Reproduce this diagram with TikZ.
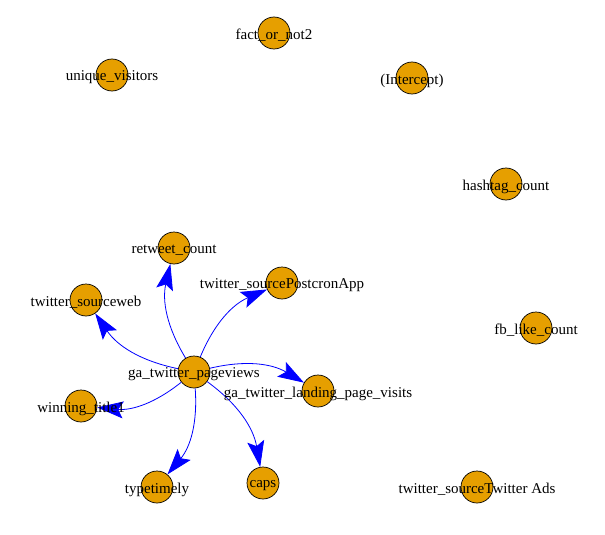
\documentclass[tikz,border=0pt]{standalone}
\usepackage{fontspec}
\setmainfont{Liberation Serif}
\usetikzlibrary{arrows.meta}
\definecolor{vorange}{HTML}{E69F00}

\begin{document}
\begin{tikzpicture}[x=1pt,y=-1pt,>={Stealth[length=26pt,width=17pt,inset=5pt]},
  vert/.style={circle,draw=black,fill=vorange,minimum size=32pt,inner sep=0pt,line width=0.7pt},
  vlabel/.style={font=\fontsize{15}{15}\selectfont,inner sep=0pt,yshift=-2.5pt},
  arc/.style={->,draw=blue,line width=0.8pt,bend left=22}]

\useasboundingbox (0,0) rectangle (605,535);

\node[vert] (pv) at (194,372) {};
\node[vert] (fact) at (274,33) {};
\node[vert] (uniq) at (112,75) {};
\node[vert] (icpt) at (412,78) {};
\node[vert] (hash) at (506,184) {};
\node[vert] (fb) at (536,328) {};
\node[vert] (ads) at (477,487) {};
\node[vert] (rt) at (174,248) {};
\node[vert] (pca) at (282,283) {};
\node[vert] (web) at (86,300) {};
\node[vert] (land) at (318,391) {};
\node[vert] (win) at (81,406) {};
\node[vert] (timely) at (157,487) {};
\node[vert] (caps) at (263,483) {};

\draw[arc] (pv) to (rt);
\draw[arc] (pv) to (pca);
\draw[arc] (pv) to (web);
\draw[arc] (pv) to (land);
\draw[arc] (pv) to (win);
\draw[arc] (pv) to (timely);
\draw[arc] (pv) to (caps);

\node[vlabel] (pv-l) at (pv) {ga\_twitter\_pageviews};
\node[vlabel] (fact-l) at (fact) {fact\_or\_not2};
\node[vlabel] (uniq-l) at (uniq) {unique\_visitors};
\node[vlabel] (icpt-l) at (icpt) {(Intercept)};
\node[vlabel] (hash-l) at (hash) {hashtag\_count};
\node[vlabel] (fb-l) at (fb) {fb\_like\_count};
\node[vlabel] (ads-l) at (ads) {twitter\_sourceTwitter Ads};
\node[vlabel] (rt-l) at (rt) {retweet\_count};
\node[vlabel] (pca-l) at (pca) {twitter\_sourcePostcronApp};
\node[vlabel] (web-l) at (web) {twitter\_sourceweb};
\node[vlabel] (land-l) at (land) {ga\_twitter\_landing\_page\_visits};
\node[vlabel] (win-l) at (win) {winning\_title1};
\node[vlabel] (timely-l) at (timely) {typetimely};
\node[vlabel] (caps-l) at (caps) {caps};

\end{tikzpicture}
\end{document}
